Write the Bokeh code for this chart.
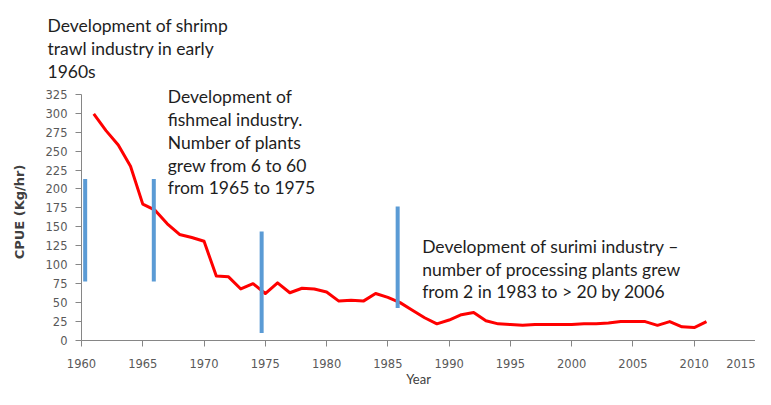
from bokeh.plotting import figure
from bokeh.models import Range1d, FixedTicker, Label, Title
from bokeh.embed import file_html
from bokeh.resources import INLINE

# ---- data ----
years = list(range(1961, 2012))
cpue = [299, 277, 258, 230, 180, 172, 154, 140, 136, 131,
        85, 84, 68, 75, 62, 76, 63, 69, 68, 64,
        52, 53, 52, 62, 57, 50, 40, 30, 22, 27,
        34, 37, 26, 22, 21, 20, 21, 21, 21, 21,
        22, 22, 23, 25, 25, 25, 20, 25, 18, 17,
        25]

event_years = [1960.3, 1965.9, 1974.7, 1985.8]
event_bottom = [78, 78, 10, 43]
event_top = [213, 213, 144, 177]

x_ticks = list(range(1960, 2016, 5))
y_ticks = list(range(0, 326, 25))

note1 = "Development of shrimp\ntrawl industry in early\n1960s"
note2 = ["Development of", "fishmeal industry.", "Number of plants",
         "grew from 6 to 60", "from 1965 to 1975"]
note3 = ["Development of surimi industry \u2013",
         "number of processing plants grew",
         "from 2 in 1983 to > 20 by 2006"]

TEXT_FONT = "Lato"
TEXT_SIZE = "17.5px"
TEXT_COLOR = "#1e1e1e"

# ---- figure ----
p = figure(width=755, height=389, x_range=Range1d(1960, 2015), y_range=Range1d(0, 339.2),
           output_backend="svg", toolbar_location=None,
           min_border_left=81, min_border_right=0, min_border_top=83, min_border_bottom=48)
p.outline_line_color = None
p.grid.visible = False

for ax in (p.xaxis[0], p.yaxis[0]):
    ax.axis_line_color = "#868686"
    ax.major_tick_line_color = "#868686"
    ax.minor_tick_line_color = None
    ax.major_tick_out = 6
    ax.major_tick_in = 0
    ax.major_label_text_font = "DejaVu Sans"
    ax.major_label_text_font_size = "11.5px"
    ax.major_label_text_color = "#595959"

p.xaxis[0].ticker = FixedTicker(ticks=x_ticks)
p.yaxis[0].ticker = FixedTicker(ticks=y_ticks)
p.yaxis[0].bounds = (0, 325)
p.xaxis[0].major_label_standoff = 12
p.yaxis[0].major_label_standoff = 8

p.xaxis[0].axis_label = "Year"
p.xaxis[0].axis_label_text_font = "Lato"
p.xaxis[0].axis_label_text_font_size = "13px"
p.xaxis[0].axis_label_text_font_style = "normal"
p.xaxis[0].axis_label_text_color = "#404040"
p.xaxis[0].axis_label_standoff = 0

p.yaxis[0].axis_label = "CPUE (Kg/hr)"
p.yaxis[0].axis_label_text_font = "DejaVu Sans"
p.yaxis[0].axis_label_text_font_size = "13px"
p.yaxis[0].axis_label_text_font_style = "bold"
p.yaxis[0].axis_label_text_color = "#404040"
p.yaxis[0].axis_label_standoff = 16

# data marks
p.line(years, cpue, line_color="#FF0000", line_width=3, line_join="round")
p.segment(x0=event_years, y0=event_bottom, x1=event_years, y1=event_top,
          line_color="#5B9BD5", line_width=4)

# note above the plot area
p.add_layout(Title(text=note1, align="left", offset=-34, standoff=2,
                   text_font=TEXT_FONT, text_font_size=TEXT_SIZE,
                   text_font_style="normal", text_color=TEXT_COLOR,
                   text_line_height=1.1), "above")

def add_block(lines, x, y0, dy):
    for i, t in enumerate(lines):
        p.add_layout(Label(x=x, y=y0 - i * dy, text=t, text_font=TEXT_FONT,
                           text_font_size=TEXT_SIZE, text_color=TEXT_COLOR,
                           text_align="left", text_baseline="middle"))

add_block(note2, 1967.04, 321.7, 30.1)
add_block(note3, 1987.80, 123.6, 29.6)

open("out.html", "w").write(file_html(p, INLINE))
